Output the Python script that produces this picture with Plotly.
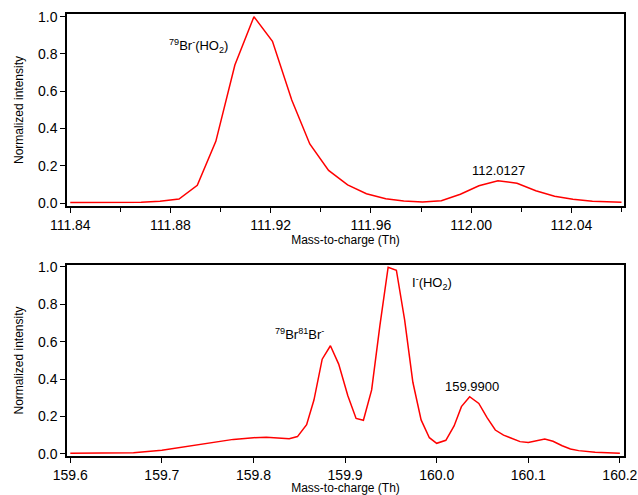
import plotly.graph_objects as go

# Top panel: 79Br-(HO2) region
mz_top = [111.8400, 111.8470, 111.8540, 111.8610, 111.8683, 111.8758, 111.8834, 111.8907,
          111.8981, 111.9057, 111.9133, 111.9207, 111.9284, 111.9356, 111.9431, 111.9507,
          111.9582, 111.9659, 111.9731, 111.9806, 111.9881, 111.9957, 112.0031, 112.0107,
          112.0183, 112.0258, 112.0333, 112.0406, 112.0484, 112.0600]
int_top = [0.003, 0.003, 0.002, 0.002, 0.004, 0.009, 0.021, 0.095,
           0.331, 0.741, 1.000, 0.868, 0.553, 0.317, 0.175, 0.097,
           0.050, 0.023, 0.011, 0.005, 0.012, 0.047, 0.093, 0.120,
           0.106, 0.066, 0.036, 0.020, 0.009, 0.004]

# Bottom panel: 79Br81Br- / I-(HO2) region
mz_bot = [159.600, 159.669, 159.700, 159.741, 159.778, 159.800, 159.814, 159.839,
          159.848, 159.858, 159.866, 159.875, 159.884, 159.893, 159.903, 159.912,
          159.920, 159.929, 159.938, 159.947, 159.956, 159.965, 159.974, 159.983,
          159.992, 160.000, 160.010, 160.019, 160.027, 160.036, 160.046, 160.055,
          160.064, 160.073, 160.082, 160.091, 160.100, 160.109, 160.118, 160.127,
          160.137, 160.146, 160.155, 160.173, 160.200]
int_bot = [0.004, 0.007, 0.020, 0.052, 0.078, 0.087, 0.090, 0.082,
           0.093, 0.157, 0.288, 0.506, 0.578, 0.480, 0.311, 0.190,
           0.180, 0.342, 0.685, 0.997, 0.981, 0.716, 0.383, 0.182,
           0.087, 0.057, 0.073, 0.150, 0.253, 0.306, 0.270, 0.194,
           0.128, 0.101, 0.082, 0.066, 0.062, 0.071, 0.080, 0.068,
           0.044, 0.027, 0.018, 0.009, 0.004]

xticks_top = [111.84, 111.88, 111.92, 111.96, 112.00, 112.04]
xticklabels_top = ["111.84", "111.88", "111.92", "111.96", "112.00", "112.04"]
xticks_bot = [159.6, 159.7, 159.8, 159.9, 160.0, 160.1, 160.2]
xticklabels_bot = ["159.6", "159.7", "159.8", "159.9", "160.0", "160.1", "160.2"]
yticks = [0.0, 0.2, 0.4, 0.6, 0.8, 1.0]
yticklabels = ["0.0", "0.2", "0.4", "0.6", "0.8", "1.0"]

FONT = "Liberation Sans, Arial, sans-serif"
RED = "#ff0000"

fig = go.Figure()
fig.add_trace(go.Scatter(x=mz_top, y=int_top, mode="lines", line=dict(color=RED, width=1.5),
                         xaxis="x", yaxis="y", showlegend=False, hoverinfo="skip"))
fig.add_trace(go.Scatter(x=mz_bot, y=int_bot, mode="lines", line=dict(color=RED, width=1.5),
                         xaxis="x2", yaxis="y2", showlegend=False, hoverinfo="skip"))

axis_common = dict(showline=True, linecolor="black", linewidth=1.5, mirror=True,
                   ticks="outside", ticklen=5, tickwidth=1, tickcolor="black",
                   showgrid=False, zeroline=False, automargin=False,
                   ticklabeloverflow="allow",
                   tickfont=dict(family=FONT, size=14, color="black"))

fig.update_layout(
    width=638, height=495,
    margin=dict(l=67, r=14, t=14, b=39),
    paper_bgcolor="white", plot_bgcolor="white",
    font=dict(family=FONT, color="black"),
    xaxis=dict(axis_common, domain=[0, 1], anchor="y", range=[111.8387, 112.061],
               tickvals=xticks_top, ticktext=xticklabels_top,
               minor=dict(dtick=0.02, tick0=111.84, ticks="outside", ticklen=4, tickcolor="black"),
               title=dict(text="Mass-to-charge (Th)", font=dict(family=FONT, size=12), standoff=0)),
    yaxis=dict(axis_common, domain=[0.5656, 1.0], anchor="x", range=[-0.016, 1.0145],
               tickvals=yticks, ticktext=yticklabels,
               title=dict(text="Normalized intensity", font=dict(family=FONT, size=12), standoff=12)),
    xaxis2=dict(axis_common, domain=[0, 1], anchor="y2", range=[159.5964, 160.2045],
                tickvals=xticks_bot, ticktext=xticklabels_bot,
                title=dict(text="Mass-to-charge (Th)", font=dict(family=FONT, size=12), standoff=0)),
    yaxis2=dict(axis_common, domain=[0, 0.4321], anchor="x2", range=[-0.0107, 1.009],
                tickvals=yticks, ticktext=yticklabels,
                title=dict(text="Normalized intensity", font=dict(family=FONT, size=12), standoff=12)),
)

ann_font = dict(family=FONT, size=13, color="black")
fig.add_annotation(x=111.891, y=0.843, xref="x", yref="y", showarrow=False, font=ann_font,
                   text="<sup>79</sup>Br<sup>-</sup>(HO<sub>2</sub>)")
fig.add_annotation(x=112.011, y=0.177, xref="x", yref="y", showarrow=False, font=ann_font,
                   text="112.0127")
fig.add_annotation(x=159.85, y=0.64, xref="x2", yref="y2", showarrow=False, font=ann_font,
                   text="<sup>79</sup>Br<sup>81</sup>Br<sup>-</sup>")
fig.add_annotation(x=159.995, y=0.913, xref="x2", yref="y2", showarrow=False, font=ann_font,
                   text="I<sup>-</sup>(HO<sub>2</sub>)")
fig.add_annotation(x=160.0385, y=0.363, xref="x2", yref="y2", showarrow=False, font=ann_font,
                   text="159.9900")

fig.write_html("out.html", config={"displayModeBar": False},
               post_script="document.body.style.margin='0';document.body.style.overflow='hidden';")
